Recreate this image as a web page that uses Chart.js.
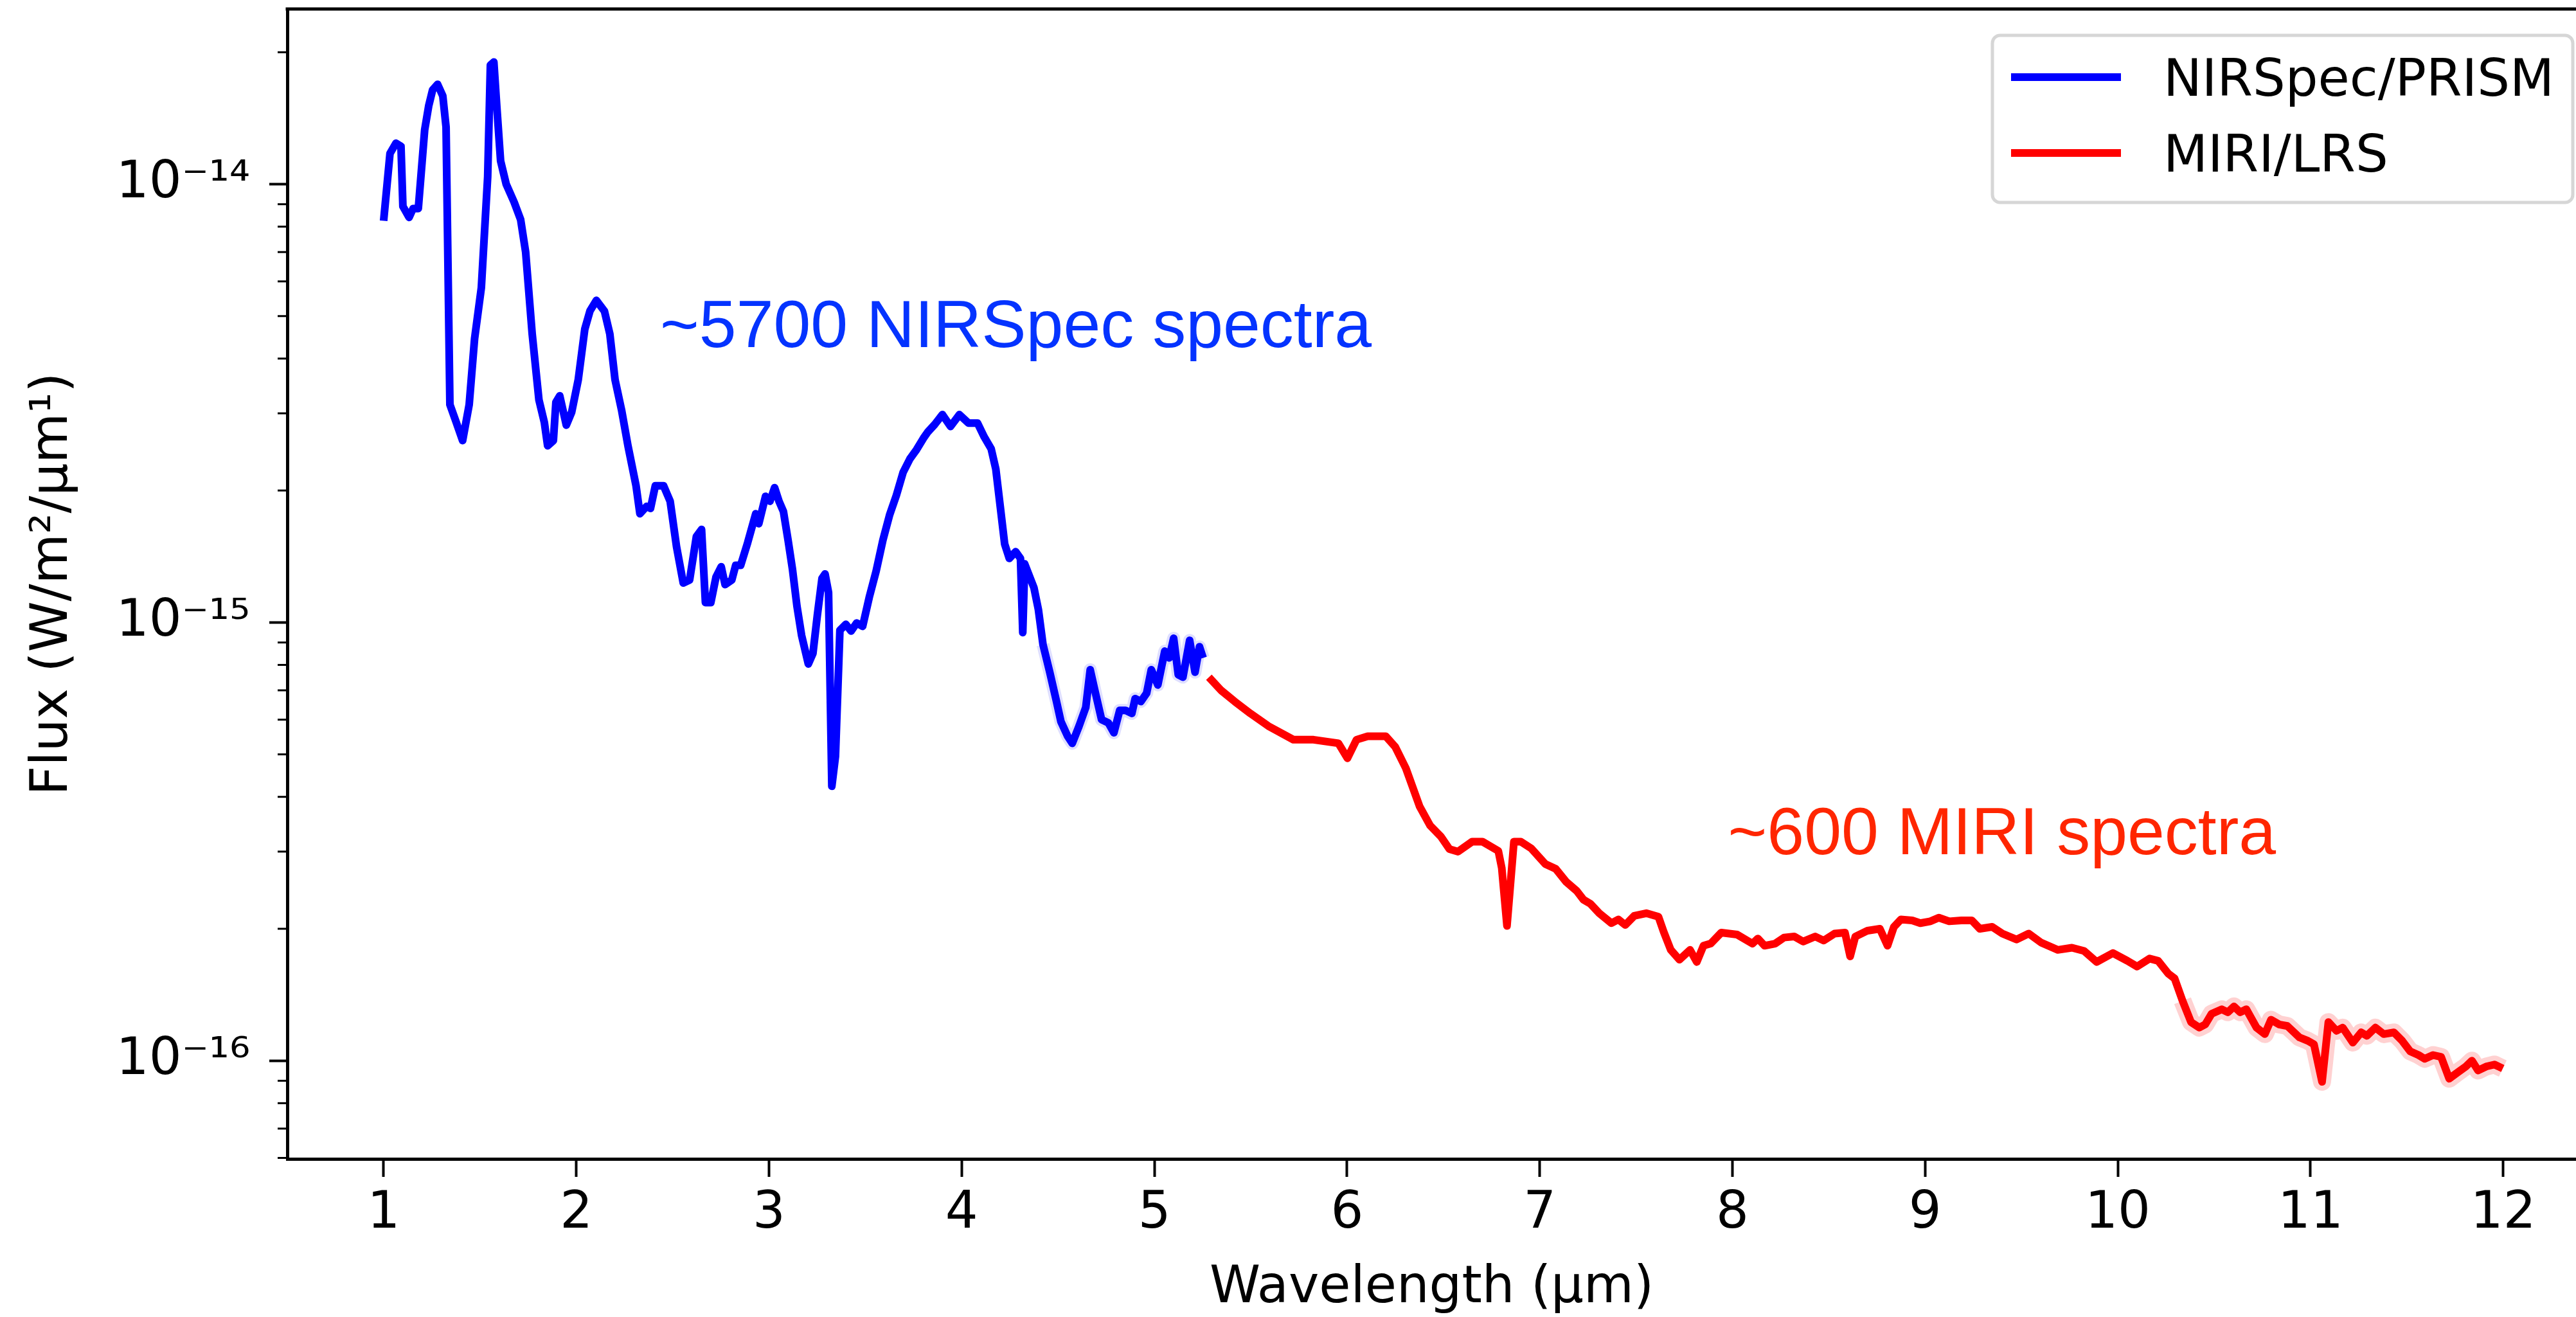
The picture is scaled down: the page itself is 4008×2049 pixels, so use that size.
<!DOCTYPE html>
<html>
<head>
<meta charset="utf-8">
<script src="https://cdn.jsdelivr.net/npm/chart.js@4.4.1/dist/chart.umd.min.js"></script>
<style>
  html, body { margin: 0; padding: 0; background: #fff; }
  canvas { display: block; }
</style>
</head>
<body>
<canvas id="spec" width="4008" height="2049"></canvas>
<script>
// wavelength in micron, flux in W/m^2/um
let nirspecWave = [1.000, 1.033, 1.064, 1.090, 1.100, 1.132, 1.153, 1.180, 1.213, 1.234, 1.254, 1.280, 1.307, 1.324,
    1.344, 1.377, 1.410, 1.444, 1.472, 1.507, 1.540, 1.554, 1.572, 1.587, 1.607, 1.636, 1.677, 1.711, 1.737, 1.771,
    1.806, 1.834, 1.851, 1.881, 1.894, 1.914, 1.948, 1.976, 2.010, 2.044, 2.071, 2.104, 2.146, 2.174, 2.201, 2.235,
    2.268, 2.310, 2.330, 2.365, 2.385, 2.410, 2.453, 2.487, 2.520, 2.555, 2.588, 2.623, 2.650, 2.670, 2.698, 2.725,
    2.752, 2.772, 2.807, 2.827, 2.853, 2.889, 2.931, 2.947, 2.982, 3.005, 3.029, 3.052, 3.075, 3.099, 3.122, 3.145,
    3.169, 3.204, 3.228, 3.251, 3.275, 3.291, 3.309, 3.326, 3.345, 3.368, 3.399, 3.426, 3.455, 3.486, 3.520, 3.556,
    3.591, 3.626, 3.661, 3.696, 3.731, 3.766, 3.801, 3.824, 3.860, 3.900, 3.942, 3.988, 4.035, 4.082, 4.117, 4.153,
    4.177, 4.200, 4.223, 4.247, 4.280, 4.305, 4.317, 4.327, 4.375, 4.398, 4.422, 4.457, 4.492, 4.515, 4.550, 4.574,
    4.609, 4.644, 4.667, 4.691, 4.726, 4.761, 4.790, 4.820, 4.850, 4.883, 4.900, 4.930, 4.960, 4.984, 5.018, 5.054,
    5.077, 5.100, 5.124, 5.148, 5.183, 5.211, 5.234, 5.253];
let nirspecFlux = [8.25e-15, 1.175e-14, 1.24e-14, 1.22e-14, 8.9e-15, 8.4e-15, 8.8e-15, 8.8e-15, 1.33e-14, 1.51e-14,
    1.64e-14, 1.69e-14, 1.59e-14, 1.35e-14, 3.14e-15, 2.86e-15, 2.60e-15, 3.14e-15, 4.44e-15, 5.8e-15, 1.04e-14,
    1.87e-14, 1.90e-14, 1.51e-14, 1.13e-14, 1.00e-14, 9.1e-15, 8.3e-15, 7.0e-15, 4.55e-15, 3.22e-15, 2.86e-15,
    2.53e-15, 2.60e-15, 3.18e-15, 3.29e-15, 2.82e-15, 3.02e-15, 3.58e-15, 4.67e-15, 5.14e-15, 5.43e-15, 5.13e-15,
    4.55e-15, 3.58e-15, 3.05e-15, 2.53e-15, 2.05e-15, 1.77e-15, 1.84e-15, 1.82e-15, 2.05e-15, 2.05e-15, 1.89e-15,
    1.49e-15, 1.23e-15, 1.25e-15, 1.57e-15, 1.63e-15, 1.11e-15, 1.11e-15, 1.27e-15, 1.34e-15, 1.22e-15, 1.25e-15,
    1.35e-15, 1.35e-15, 1.52e-15, 1.77e-15, 1.68e-15, 1.94e-15, 1.89e-15, 2.03e-15, 1.89e-15, 1.79e-15, 1.54e-15,
    1.32e-15, 1.09e-15, 9.35e-16, 8.04e-16, 8.5e-16, 1.04e-15, 1.26e-15, 1.29e-15, 1.17e-15, 4.23e-16, 4.95e-16,
    9.6e-16, 9.9e-16, 9.56e-16, 9.97e-16, 9.8e-16, 1.14e-15, 1.31e-15, 1.54e-15, 1.76e-15, 1.95e-15, 2.20e-15,
    2.36e-15, 2.48e-15, 2.63e-15, 2.72e-15, 2.83e-15, 2.98e-15, 2.80e-15, 2.98e-15, 2.85e-15, 2.85e-15, 2.65e-15,
    2.49e-15, 2.24e-15, 1.84e-15, 1.51e-15, 1.40e-15, 1.45e-15, 1.40e-15, 9.48e-16, 1.36e-15, 1.20e-15, 1.07e-15,
    8.9e-16, 7.7e-16, 6.6e-16, 5.94e-16, 5.5e-16, 5.3e-16, 5.8e-16, 6.4e-16, 7.8e-16, 7.0e-16, 6.0e-16, 5.9e-16,
    5.6e-16, 6.3e-16, 6.3e-16, 6.2e-16, 6.7e-16, 6.6e-16, 6.9e-16, 7.8e-16, 7.2e-16, 8.6e-16, 8.3e-16, 9.2e-16,
    7.6e-16, 7.5e-16, 9.1e-16, 7.7e-16, 8.8e-16, 8.3e-16];

let miriWave = [5.283, 5.346, 5.417, 5.498, 5.592, 5.722, 5.826, 5.955, 6.002, 6.049, 6.107, 6.154, 6.201, 6.250,
    6.305, 6.377, 6.431, 6.486, 6.531, 6.576, 6.649, 6.703, 6.785, 6.803, 6.830, 6.866, 6.902, 6.956, 7.029, 7.083,
    7.137, 7.192, 7.227, 7.263, 7.309, 7.372, 7.408, 7.444, 7.490, 7.553, 7.616, 7.643, 7.680, 7.725, 7.780, 7.815,
    7.850, 7.887, 7.942, 8.024, 8.104, 8.132, 8.167, 8.222, 8.268, 8.321, 8.367, 8.430, 8.474, 8.530, 8.584, 8.611,
    8.638, 8.701, 8.765, 8.805, 8.838, 8.874, 8.933, 8.975, 9.028, 9.071, 9.125, 9.188, 9.242, 9.284, 9.348, 9.401,
    9.475, 9.538, 9.602, 9.688, 9.762, 9.825, 9.890, 9.975, 10.050, 10.100, 10.165, 10.209, 10.262, 10.295, 10.336,
    10.380, 10.423, 10.454, 10.487, 10.540, 10.571, 10.603, 10.635, 10.667, 10.720, 10.763, 10.795, 10.837, 10.880,
    10.943, 10.987, 11.018, 11.060, 11.093, 11.135, 11.167, 11.220, 11.263, 11.293, 11.337, 11.380, 11.433, 11.476,
    11.518, 11.561, 11.593, 11.636, 11.678, 11.720, 11.763, 11.806, 11.838, 11.870, 11.912, 11.955, 11.998];
let miriFlux = [7.5e-16, 7.0e-16, 6.6e-16, 6.2e-16, 5.8e-16, 5.4e-16, 5.4e-16, 5.3e-16, 4.9e-16, 5.4e-16, 5.5e-16,
    5.5e-16, 5.5e-16, 5.2e-16, 4.65e-16, 3.8e-16, 3.44e-16, 3.25e-16, 3.04e-16, 3.0e-16, 3.16e-16, 3.16e-16, 3.01e-16,
    2.75e-16, 2.03e-16, 3.16e-16, 3.16e-16, 3.05e-16, 2.81e-16, 2.74e-16, 2.56e-16, 2.44e-16, 2.33e-16, 2.28e-16,
    2.17e-16, 2.06e-16, 2.10e-16, 2.04e-16, 2.14e-16, 2.17e-16, 2.13e-16, 1.97e-16, 1.79e-16, 1.70e-16, 1.79e-16,
    1.68e-16, 1.83e-16, 1.85e-16, 1.96e-16, 1.94e-16, 1.85e-16, 1.90e-16, 1.83e-16, 1.85e-16, 1.91e-16, 1.92e-16,
    1.87e-16, 1.92e-16, 1.88e-16, 1.95e-16, 1.96e-16, 1.73e-16, 1.92e-16, 1.98e-16, 2.00e-16, 1.83e-16, 2.02e-16,
    2.10e-16, 2.09e-16, 2.06e-16, 2.08e-16, 2.12e-16, 2.08e-16, 2.09e-16, 2.09e-16, 2.00e-16, 2.02e-16, 1.95e-16,
    1.89e-16, 1.95e-16, 1.86e-16, 1.79e-16, 1.81e-16, 1.78e-16, 1.68e-16, 1.76e-16, 1.69e-16, 1.64e-16, 1.71e-16,
    1.69e-16, 1.58e-16, 1.54e-16, 1.37e-16, 1.225e-16, 1.19e-16, 1.21e-16, 1.28e-16, 1.31e-16, 1.29e-16, 1.33e-16,
    1.29e-16, 1.31e-16, 1.19e-16, 1.15e-16, 1.24e-16, 1.21e-16, 1.20e-16, 1.13e-16, 1.11e-16, 1.09e-16, 8.95e-17,
    1.225e-16, 1.17e-16, 1.19e-16, 1.10e-16, 1.16e-16, 1.14e-16, 1.19e-16, 1.15e-16, 1.16e-16, 1.11e-16, 1.05e-16,
    1.03e-16, 1.01e-16, 1.03e-16, 1.02e-16, 9.1e-17, 9.4e-17, 9.7e-17, 1.0e-16, 9.5e-17, 9.7e-17, 9.8e-17, 9.6e-17];

let xTicks = [1, 2, 3, 4, 5, 6, 7, 8, 9, 10, 11, 12];
let yMajorTicks = [1e-16, 1e-15, 1e-14];
let yMajorLabels = ['10⁻¹⁶', '10⁻¹⁵', '10⁻¹⁴'];
let yMinorSteps = [2, 3, 4, 5, 6, 7, 8, 9];

let seriesNames = ['NIRSpec/PRISM', 'MIRI/LRS'];
let seriesColors = ['#0000ff', '#ff0000'];
let noteTexts = ['~5700 NIRSpec spectra', '~600 MIRI spectra'];
let noteColors = ['#0433ff', '#ff2600'];

// axis limits (the right spine falls just outside the picture)
let xMin = 0.5, xMax = 12.378;
let yMin = 5.97e-17, yMax = 2.51e-14;

let toPoints = (xs, ys) => xs.map((x, i) => ({x: x, y: ys[i]}));

let isMajor = (v) => yMajorTicks.some(m => Math.abs(v / m - 1) < 1e-6);

let yTickValues = [];
for (let e = -17; e <= -14; e++) {
    yTickValues.push(Math.pow(10, e));
    yMinorSteps.forEach(s => yTickValues.push(s * Math.pow(10, e)));
}
yTickValues = yTickValues.filter(v => v >= yMin * 0.999 && v <= yMax);

// top spine, minor ticks, legend and the two notes
let extras = {
    id: 'extras',
    afterDatasetsDraw(chart) {
        let ctx = chart.ctx;
        let xs = chart.scales.x, ys = chart.scales.y;
        ctx.save();
        ctx.font = '104px "Liberation Sans"';
        ctx.textBaseline = 'alphabetic';
        ctx.textAlign = 'left';
        let noteAt = [[2.435, 4.25e-15], [7.977, 2.96e-16]];
        noteTexts.forEach((t, i) => {
            ctx.fillStyle = noteColors[i];
            ctx.fillText(t, xs.getPixelForValue(noteAt[i][0]), ys.getPixelForValue(noteAt[i][1]));
        });
        ctx.restore();
    },
    afterDraw(chart) {
        let ctx = chart.ctx;
        let a = chart.chartArea;
        let ys = chart.scales.y;
        ctx.save();
        // top spine
        ctx.strokeStyle = '#000';
        ctx.lineWidth = 5;
        ctx.beginPath();
        ctx.moveTo(a.left - 2.5, a.top);
        ctx.lineTo(a.right, a.top);
        ctx.stroke();
        // minor ticks
        ctx.lineWidth = 3;
        yTickValues.filter(v => !isMajor(v)).forEach(v => {
            let py = ys.getPixelForValue(v);
            ctx.beginPath();
            ctx.moveTo(a.left - 15, py);
            ctx.lineTo(a.left, py);
            ctx.stroke();
        });
        // legend
        let bx = 3100, by = 55, bw = 903, bh = 260, r = 12;
        ctx.beginPath();
        ctx.moveTo(bx + r, by);
        ctx.lineTo(bx + bw - r, by);
        ctx.arcTo(bx + bw, by, bx + bw, by + r, r);
        ctx.lineTo(bx + bw, by + bh - r);
        ctx.arcTo(bx + bw, by + bh, bx + bw - r, by + bh, r);
        ctx.lineTo(bx + r, by + bh);
        ctx.arcTo(bx, by + bh, bx, by + bh - r, r);
        ctx.lineTo(bx, by + r);
        ctx.arcTo(bx, by, bx + r, by, r);
        ctx.closePath();
        ctx.fillStyle = 'rgba(255,255,255,0.8)';
        ctx.fill();
        ctx.strokeStyle = '#d6d6d6';
        ctx.lineWidth = 5;
        ctx.stroke();
        let rows = [120, 238];
        ctx.font = '80px "DejaVu Sans"';
        ctx.textBaseline = 'alphabetic';
        ctx.textAlign = 'left';
        seriesNames.forEach((name, i) => {
            ctx.strokeStyle = seriesColors[i];
            ctx.lineWidth = 12;
            ctx.beginPath();
            ctx.moveTo(3129, rows[i]);
            ctx.lineTo(3300, rows[i]);
            ctx.stroke();
            ctx.fillStyle = '#000';
            ctx.fillText(name, 3366, rows[i] + 29);
        });
        ctx.restore();
    }
};

Chart.defaults.font.family = '"DejaVu Sans"';
Chart.defaults.color = '#000';

let ctx = document.getElementById('spec').getContext('2d');
let chart = new Chart(ctx, {
    type: 'line',
    data: {
        datasets: [
            {
                label: seriesNames[0],
                data: toPoints(nirspecWave, nirspecFlux),
                borderColor: seriesColors[0],
                borderWidth: 12,
                borderJoinStyle: 'round',
                pointRadius: 0,
                tension: 0
            },
            {
                label: seriesNames[1],
                data: toPoints(miriWave, miriFlux),
                borderColor: seriesColors[1],
                borderWidth: 12,
                borderJoinStyle: 'round',
                pointRadius: 0,
                tension: 0
            },
            {
                label: 'nirspec scatter',
                data: toPoints(nirspecWave, nirspecFlux),
                borderWidth: 20,
                borderJoinStyle: 'round',
                pointRadius: 0,
                segment: {
                    borderColor: c => c.p0.parsed.x > 4.4 ? 'rgba(0,0,255,0.13)' : 'rgba(0,0,0,0)'
                }
            },
            {
                label: 'miri scatter',
                data: toPoints(miriWave, miriFlux),
                borderWidth: 28,
                borderJoinStyle: 'round',
                pointRadius: 0,
                segment: {
                    borderColor: c => c.p0.parsed.x > 10.3 ? 'rgba(255,0,0,0.18)' : 'rgba(0,0,0,0)'
                }
            }
        ]
    },
    options: {
        responsive: false,
        devicePixelRatio: 1,
        animation: false,
        events: [],
        layout: {padding: {left: 0, top: 14, right: 0, bottom: 0}},
        plugins: {
            legend: {display: false},
            tooltip: {enabled: false}
        },
        scales: {
            x: {
                type: 'linear',
                min: xMin,
                max: xMax,
                afterBuildTicks: s => { s.ticks = xTicks.map(v => ({value: v})); },
                afterFit: s => { s.height = 246; s.paddingLeft = 0; s.paddingRight = 0; },
                ticks: {
                    font: {size: 80},
                    padding: 10,
                    autoSkip: false,
                    maxRotation: 0,
                    callback: v => String(v)
                },
                grid: {
                    drawOnChartArea: false,
                    tickLength: 28,
                    tickWidth: 4,
                    tickColor: '#000'
                },
                border: {display: true, color: '#000', width: 5},
                title: {
                    display: true,
                    text: 'Wavelength (μm)',
                    font: {size: 80, lineHeight: 1},
                    padding: {top: 0, bottom: 4}
                }
            },
            y: {
                type: 'logarithmic',
                min: yMin,
                max: yMax,
                afterBuildTicks: s => { s.ticks = yTickValues.map(v => ({value: v})); },
                afterFit: s => { s.width = 447; s.paddingTop = 0; s.paddingBottom = 0; },
                ticks: {
                    font: {size: 80},
                    padding: 30,
                    autoSkip: false,
                    callback: v => {
                        let i = yMajorTicks.findIndex(m => Math.abs(v / m - 1) < 1e-6);
                        return i >= 0 ? yMajorLabels[i] : null;
                    }
                },
                grid: {
                    drawOnChartArea: false,
                    tickLength: 28,
                    tickWidth: 4,
                    tickColor: c => (c.tick && isMajor(c.tick.value)) ? '#000' : 'rgba(0,0,0,0)'
                },
                border: {display: true, color: '#000', width: 5},
                title: {
                    display: true,
                    text: 'Flux (W/m²/μm¹)',
                    font: {size: 80, lineHeight: 1},
                    padding: {top: 43, bottom: 0}
                }
            }
        }
    },
    plugins: [extras]
});
</script>
</body>
</html>
